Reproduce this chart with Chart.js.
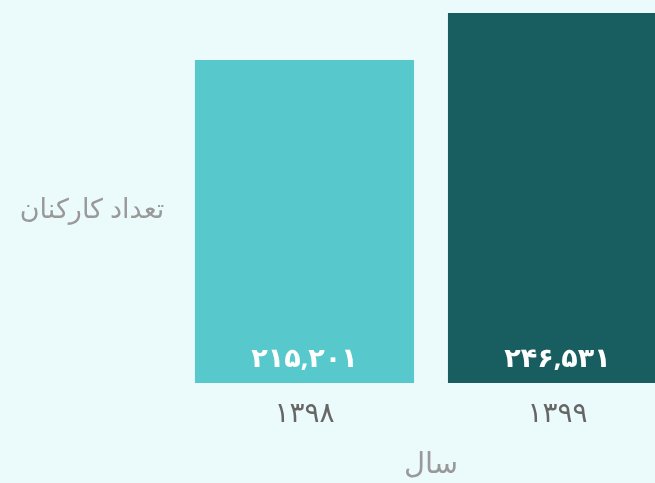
<!DOCTYPE html>
<html>
<head>
<meta charset="utf-8">
<script src="https://cdn.jsdelivr.net/npm/chart.js@4"></script>
<style>
  html, body { margin: 0; padding: 0; background: #ebfafa; overflow: hidden; }
</style>
</head>
<body>
<canvas id="chartBars" width="700" height="483"></canvas>
<script>
const years = ['۱۳۹۸', '۱۳۹۹'];
const staff = [215201, 246531];
const barColors = ['#57c9cc', '#185e61'];
const yTitle = 'تعداد کارکنان';
const xTitle = 'سال';

const faFont = "'Noto Sans', 'DejaVu Sans', sans-serif";

// 215201 -> ۲۱۵,۲۰۱
function toFa(n) {
  const digits = '۰۱۲۳۴۵۶۷۸۹';
  return n.toLocaleString('en-US').replace(/\d/g, d => digits[d]);
}

const extras = {
  id: 'extras',
  afterDatasetsDraw(chart) {
    const ctx = chart.ctx;
    const area = chart.chartArea;
    ctx.save();
    ctx.textAlign = 'center';
    ctx.textBaseline = 'middle';
    // values inside the bars
    ctx.fillStyle = '#ffffff';
    ctx.font = 'bold 27px ' + faFont;
    chart.getDatasetMeta(0).data.forEach((bar, i) => {
      ctx.fillText(toFa(staff[i]), bar.x, area.bottom - 24);
    });
    // y title, horizontal
    ctx.fillStyle = '#999999';
    ctx.font = '27px ' + faFont;
    ctx.fillText(yTitle, 92, 210);
    ctx.restore();
  }
};

const chartBars = document.getElementById('chartBars').getContext('2d');

let myChart = new Chart(chartBars, {
  type: 'bar',
  data: {
    labels: years,
    datasets: [{
      data: staff,
      backgroundColor: barColors,
      barPercentage: 0.866,
      categoryPercentage: 1
    }]
  },
  options: {
    responsive: false,
    animation: false,
    layout: { padding: { left: 178, right: 16, top: 13, bottom: 1 } },
    plugins: {
      legend: { display: false },
      tooltip: { enabled: false }
    },
    scales: {
      x: {
        afterFit: scale => { scale.height = 99; },
        grid: { display: false },
        border: { display: false },
        ticks: { color: '#666666', font: { size: 28, family: faFont }, padding: 6 },
        title: {
          display: true,
          text: xTitle,
          color: '#999999',
          font: { size: 29, family: faFont },
          padding: { top: 10, bottom: 0 }
        }
      },
      y: {
        display: false,
        min: 0,
        max: 246531
      }
    }
  },
  plugins: [extras]
});
</script>
</body>
</html>
